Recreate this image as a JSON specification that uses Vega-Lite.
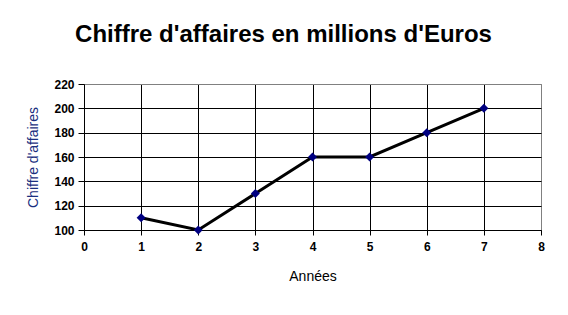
{
  "$schema": "https://vega.github.io/schema/vega-lite/v6.json",
  "width": 457,
  "height": 146,
  "autosize": {"type": "none"},
  "padding": {"left": 84, "top": 84, "right": 27, "bottom": 85},
  "background": "white",
  "title": {
    "text": "Chiffre d'affaires en millions d'Euros",
    "font": "Liberation Sans",
    "fontSize": 24,
    "fontWeight": "bold",
    "color": "black",
    "anchor": "middle",
    "dx": -29,
    "offset": 31
  },
  "data": {
    "values": [
      {"annee": 1, "ca": 110},
      {"annee": 2, "ca": 100},
      {"annee": 3, "ca": 130},
      {"annee": 4, "ca": 160},
      {"annee": 5, "ca": 160},
      {"annee": 6, "ca": 180},
      {"annee": 7, "ca": 200}
    ]
  },
  "config": {
    "view": {"stroke": "#808080", "strokeWidth": 1},
    "axis": {
      "labelFont": "Liberation Sans",
      "labelFontSize": 12,
      "labelFontWeight": "bold",
      "labelColor": "black",
      "labelOverlap": false,
      "titleFont": "Liberation Sans",
      "titleFontSize": 14,
      "titleFontWeight": "normal",
      "domainColor": "black",
      "tickColor": "black",
      "tickSize": 5,
      "gridOpacity": 1
    }
  },
  "layer": [
    {
      "mark": {"type": "line", "color": "black", "strokeWidth": 3},
      "encoding": {
        "x": {
          "field": "annee", "type": "quantitative",
          "scale": {"domain": [0, 8], "nice": false},
          "axis": {
            "values": [0, 1, 2, 3, 4, 5, 6, 7, 8],
            "tickCount": 9,
            "format": "d",
            "title": "Années",
            "titleColor": "black",
            "titlePadding": 17,
            "labelPadding": 6,
            "grid": true,
            "gridColor": {"condition": {"test": "datum.value == 8 || datum.value == 0", "value": "#808080"}, "value": "black"},
            "labelFlush": false
          }
        },
        "y": {
          "field": "ca", "type": "quantitative",
          "scale": {"domain": [100, 220], "nice": false, "zero": false},
          "axis": {
            "values": [100, 120, 140, 160, 180, 200, 220],
            "tickCount": 7,
            "format": "d",
            "title": "Chiffre d'affaires",
            "titleColor": "#1a2f80",
            "titlePadding": 13,
            "labelPadding": 4,
            "tickSize": 6,
            "grid": true,
            "gridColor": {"condition": {"test": "datum.value == 220", "value": "#808080"}, "value": "black"},
            "labelFlush": false
          }
        }
      }
    },
    {
      "mark": {"type": "point", "shape": "diamond", "filled": true, "color": "#000080", "size": 80, "opacity": 1},
      "encoding": {
        "x": {"field": "annee", "type": "quantitative"},
        "y": {"field": "ca", "type": "quantitative"}
      }
    }
  ]
}
